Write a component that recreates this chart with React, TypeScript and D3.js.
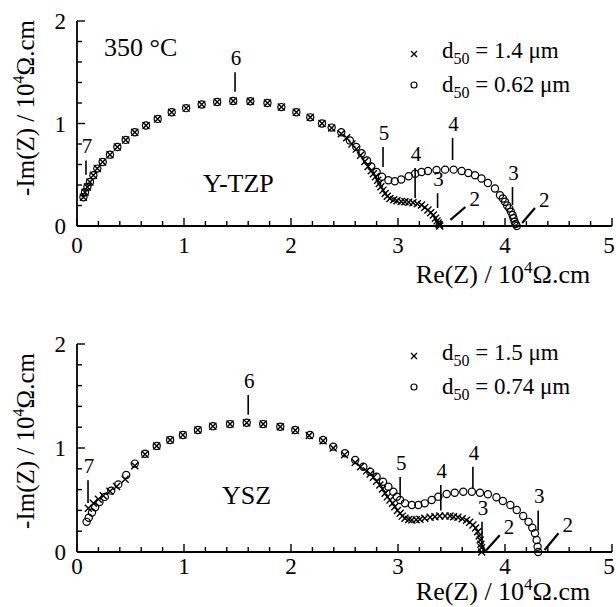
import React from "react";
import * as d3 from "d3";

// ---------- data ----------
// Y-TZP (top panel), 350 °C
const ytzpCoarse: [number, number][] = [
  [0.06, 0.28], [0.075, 0.33], [0.097, 0.38], [0.121, 0.43], [0.153, 0.495], [0.19, 0.56],
  [0.24, 0.624], [0.308, 0.696], [0.377, 0.77], [0.455, 0.84], [0.54, 0.915], [0.645, 0.98],
  [0.754, 1.045], [0.885, 1.11], [1.02, 1.15], [1.165, 1.185], [1.31, 1.21], [1.46, 1.22],
  [1.62, 1.217], [1.78, 1.2], [1.91, 1.16], [2.05, 1.11], [2.18, 1.06], [2.29, 1.0],
  [2.38, 0.955], [2.47, 0.9], [2.52, 0.86], [2.57, 0.8], [2.61, 0.75], [2.65, 0.69],
  [2.69, 0.63], [2.72, 0.58], [2.75, 0.54], [2.77, 0.51], [2.79, 0.48], [2.81, 0.447],
  [2.825, 0.415], [2.84, 0.382], [2.86, 0.35], [2.88, 0.317], [2.9, 0.29], [2.925, 0.269],
  [2.96, 0.255], [2.99, 0.246], [3.03, 0.24], [3.065, 0.236], [3.1, 0.232], [3.14, 0.226],
  [3.18, 0.216], [3.22, 0.204], [3.25, 0.18], [3.28, 0.155], [3.305, 0.13], [3.33, 0.107],
  [3.35, 0.075], [3.365, 0.05], [3.375, 0.03], [3.385, 0.012], [3.39, 0.0],
];
const ytzpFine: [number, number][] = [
  [0.06, 0.28], [0.075, 0.33], [0.097, 0.38], [0.121, 0.43], [0.153, 0.495], [0.19, 0.56],
  [0.24, 0.624], [0.308, 0.696], [0.377, 0.77], [0.455, 0.84], [0.54, 0.915], [0.645, 0.98],
  [0.754, 1.045], [0.885, 1.11], [1.02, 1.15], [1.165, 1.185], [1.31, 1.21], [1.46, 1.22],
  [1.62, 1.217], [1.78, 1.2], [1.91, 1.16], [2.05, 1.11], [2.18, 1.06], [2.29, 1.0],
  [2.38, 0.96], [2.47, 0.915], [2.55, 0.835], [2.61, 0.77], [2.66, 0.71], [2.71, 0.64],
  [2.75, 0.58], [2.8, 0.527], [2.85, 0.48], [2.91, 0.447], [2.97, 0.437], [3.03, 0.453],
  [3.1, 0.485], [3.16, 0.51], [3.22, 0.527], [3.28, 0.537], [3.36, 0.547], [3.44, 0.55],
  [3.52, 0.55], [3.595, 0.537], [3.657, 0.517], [3.72, 0.495], [3.78, 0.463], [3.84, 0.42],
  [3.906, 0.366], [3.953, 0.3], [3.98, 0.268], [4.0, 0.236], [4.02, 0.2], [4.04, 0.172],
  [4.055, 0.14], [4.07, 0.107], [4.08, 0.075], [4.09, 0.042], [4.1, 0.02], [4.11, 0.0],
];

// YSZ (bottom panel)
const yszCoarse: [number, number][] = [
  [0.106, 0.42], [0.153, 0.468], [0.2, 0.507], [0.246, 0.54], [0.308, 0.585], [0.37, 0.63],
  [0.45, 0.7], [0.54, 0.83], [0.636, 0.94], [0.745, 1.02], [0.87, 1.077], [0.99, 1.125],
  [1.13, 1.173], [1.27, 1.21], [1.43, 1.23], [1.586, 1.243], [1.74, 1.23], [1.9, 1.205],
  [2.04, 1.17], [2.17, 1.12], [2.3, 1.07], [2.395, 1.0], [2.5, 0.935], [2.6, 0.86],
  [2.65, 0.82], [2.707, 0.78], [2.74, 0.75], [2.77, 0.718], [2.8, 0.68], [2.83, 0.644],
  [2.855, 0.605], [2.88, 0.564], [2.9, 0.53], [2.925, 0.5], [2.95, 0.468], [2.97, 0.436],
  [2.995, 0.4], [3.02, 0.372], [3.04, 0.345], [3.065, 0.324], [3.1, 0.312], [3.13, 0.308],
  [3.17, 0.31], [3.205, 0.314], [3.25, 0.324], [3.3, 0.333], [3.345, 0.34], [3.39, 0.346],
  [3.44, 0.347], [3.486, 0.346], [3.52, 0.34], [3.56, 0.333], [3.6, 0.32], [3.64, 0.305],
  [3.67, 0.285], [3.7, 0.26], [3.725, 0.23], [3.745, 0.195], [3.758, 0.155], [3.768, 0.115],
  [3.775, 0.075], [3.78, 0.04], [3.782, 0.0],
];
const yszFine: [number, number][] = [
  [0.09, 0.29], [0.11, 0.33], [0.14, 0.38], [0.17, 0.43], [0.21, 0.48], [0.26, 0.53],
  [0.32, 0.59], [0.386, 0.65], [0.46, 0.74], [0.54, 0.85], [0.636, 0.945], [0.745, 1.02],
  [0.87, 1.077], [0.99, 1.125], [1.13, 1.173], [1.27, 1.21], [1.43, 1.23], [1.586, 1.243],
  [1.74, 1.23], [1.9, 1.205], [2.04, 1.173], [2.178, 1.125], [2.3, 1.077], [2.395, 1.013],
  [2.505, 0.949], [2.6, 0.885], [2.676, 0.82], [2.74, 0.772], [2.8, 0.724], [2.86, 0.676],
  [2.91, 0.628], [2.956, 0.58], [2.99, 0.532], [3.02, 0.5], [3.065, 0.468], [3.13, 0.452],
  [3.19, 0.452], [3.25, 0.468], [3.315, 0.5], [3.377, 0.532], [3.455, 0.558], [3.53, 0.57],
  [3.61, 0.58], [3.69, 0.58], [3.766, 0.57], [3.84, 0.555], [3.92, 0.526], [3.98, 0.49],
  [4.05, 0.452], [4.11, 0.404], [4.17, 0.346], [4.22, 0.29], [4.255, 0.234], [4.28, 0.18],
  [4.296, 0.115], [4.305, 0.051], [4.31, 0.0],
];

// frequency-decade annotations (label, x, y of tick top, y of tick bottom)
const ytzpTicks = [
  { label: "7", x: 0.084, y1: 0.64, y2: 0.5 },
  { label: "6", x: 1.477, y1: 1.5, y2: 1.31 },
  { label: "5", x: 2.86, y1: 0.77, y2: 0.576 },
  { label: "4", x: 3.51, y1: 0.86, y2: 0.644 },
  { label: "4", x: 3.16, y1: 0.566, y2: 0.273 },
  { label: "3", x: 3.37, y1: 0.32, y2: 0.176 },
  { label: "3", x: 4.07, y1: 0.38, y2: 0.205 },
];
const ytzpDiag = [
  { label: "2", x1: 3.49, y1: 0.06, x2: 3.63, y2: 0.185 },
  { label: "2", x1: 4.16, y1: 0.03, x2: 4.28, y2: 0.176 },
];
const yszTicks = [
  { label: "7", x: 0.103, y1: 0.69, y2: 0.47 },
  { label: "6", x: 1.6, y1: 1.51, y2: 1.32 },
  { label: "5", x: 3.02, y1: 0.72, y2: 0.55 },
  { label: "4", x: 3.4, y1: 0.644, y2: 0.4 },
  { label: "4", x: 3.7, y1: 0.82, y2: 0.615 },
  { label: "3", x: 4.31, y1: 0.4, y2: 0.21 },
  { label: "3", x: 3.785, y1: 0.29, y2: 0.04 },
];
const yszDiag = [
  { label: "2", x1: 3.81, y1: 0.0, x2: 3.95, y2: 0.16 },
  { label: "2", x1: 4.37, y1: 0.02, x2: 4.5, y2: 0.18 },
];

const xTickValues = [0, 1, 2, 3, 4, 5];
const yTickValues = [0, 1, 2];
const ytzpLegend = ["1.4", "0.62"];
const yszLegend = ["1.5", "0.74"];

const FONT = "'Liberation Serif', 'Times New Roman', serif";

type Pt = [number, number];
type TickAnn = { label: string; x: number; y1: number; y2: number };
type DiagAnn = { label: string; x1: number; y1: number; x2: number; y2: number };

function Cross({ cx, cy, s = 3.5 }: { cx: number; cy: number; s?: number }) {
  return (
    <path
      d={`M${cx - s},${cy - s}L${cx + s},${cy + s}M${cx - s},${cy + s}L${cx + s},${cy - s}`}
      stroke="#000"
      strokeWidth={1.4}
      fill="none"
    />
  );
}

function Panel(props: {
  top: number;
  bottom: number;
  coarse: Pt[];
  fine: Pt[];
  ticks: TickAnn[];
  diags: DiagAnn[];
  legend: string[];
  name: string;
  nameX: number;
  nameY: number;
  legendY: number;
  showTemp: boolean;
  titleY: number;
  xLabelY: number;
  xTickOffset: number;
}) {
  const x = d3.scaleLinear().domain([0, 5]).range([77, 612]);
  const y = d3.scaleLinear().domain([0, 2]).range([props.bottom, props.top]);
  const minor = d3.range(0, 5.0001, 0.2);
  const yMinor = d3.range(0, 2.0001, 0.2);
  const isInt = (v: number) => Math.abs(v - Math.round(v)) < 1e-6;

  return (
    <g fontFamily={FONT} fill="#000">
      {/* axes */}
      <line x1={x(0)} x2={x(5)} y1={y(0)} y2={y(0)} stroke="#000" strokeWidth={1.8} />
      <line x1={x(0)} x2={x(0)} y1={y(0)} y2={y(2)} stroke="#000" strokeWidth={1.8} />
      {minor.map((v, i) => (
        <line
          key={"xt" + i}
          x1={x(v)}
          x2={x(v)}
          y1={y(0)}
          y2={y(0) - (isInt(v) ? 8 : 5)}
          stroke="#000"
          strokeWidth={1.4}
        />
      ))}
      {yMinor.map((v, i) => (
        <line
          key={"yt" + i}
          x1={x(0)}
          x2={x(0) + (isInt(v) ? 8 : 5)}
          y1={y(v)}
          y2={y(v)}
          stroke="#000"
          strokeWidth={1.4}
        />
      ))}
      {xTickValues.map((v) => (
        <text
          key={"xl" + v}
          x={Math.min(x(v), 609)}
          y={y(0) + props.xTickOffset}
          fontSize={23}
          textAnchor="middle"
        >
          {v}
        </text>
      ))}
      {yTickValues.map((v) => (
        <text key={"yl" + v} x={x(0) - 11} y={y(v) + 8} fontSize={23} textAnchor="end">
          {v}
        </text>
      ))}
      {/* axis titles */}
      <text
        transform={`translate(34,${props.titleY}) rotate(-90)`}
        fontSize={25}
        textAnchor="middle"
      >
        -Im(Z) / 10
        <tspan fontSize={16} dy={-10}>4</tspan>
        <tspan dy={10}>Ω.cm</tspan>
      </text>
      <text x={503} y={props.xLabelY} fontSize={26} textAnchor="middle">
        Re(Z) / 10
        <tspan fontSize={17} dy={-10}>4</tspan>
        <tspan dy={10}>Ω.cm</tspan>
      </text>

      {/* data: circles (fine) and crosses (coarse) */}
      {props.fine.map((p, i) => (
        <circle key={"c" + i} cx={x(p[0])} cy={y(p[1])} r={3.6} fill="none" stroke="#000" strokeWidth={1.2} />
      ))}
      {props.coarse.map((p, i) => (
        <Cross key={"x" + i} cx={x(p[0])} cy={y(p[1])} />
      ))}

      {/* decade annotations */}
      {props.ticks.map((t, i) => (
        <g key={"a" + i}>
          <line x1={x(t.x)} x2={x(t.x)} y1={y(t.y1)} y2={y(t.y2)} stroke="#000" strokeWidth={1.6} />
          <text x={x(t.x) + 1} y={y(t.y1) - 7} fontSize={21} textAnchor="middle">
            {t.label}
          </text>
        </g>
      ))}
      {props.diags.map((t, i) => (
        <g key={"d" + i}>
          <line x1={x(t.x1)} x2={x(t.x2)} y1={y(t.y1)} y2={y(t.y2)} stroke="#000" strokeWidth={2.2} />
          <text x={x(t.x2) + 4} y={y(t.y2) - 1} fontSize={21}>
            {t.label}
          </text>
        </g>
      ))}

      {/* panel name */}
      <text x={props.nameX} y={props.nameY} fontSize={26}>
        {props.name}
      </text>
      {props.showTemp && (
        <text x={104} y={56} fontSize={26}>
          350 °C
        </text>
      )}

      {/* legend */}
      <Cross cx={414} cy={props.legendY - 4} s={3} />
      <text x={442} y={props.legendY} fontSize={23}>
        d<tspan fontSize={16} dy={6}>50</tspan>
        <tspan dy={-6}> = {props.legend[0]} μm</tspan>
      </text>
      <circle cx={414} cy={props.legendY + 27} r={3} fill="none" stroke="#000" strokeWidth={1.2} />
      <text x={442} y={props.legendY + 34} fontSize={23}>
        d<tspan fontSize={16} dy={6}>50</tspan>
        <tspan dy={-6}> = {props.legend[1]} μm</tspan>
      </text>
    </g>
  );
}

export default function App() {
  return (
    <svg
      width={616}
      height={607}
      viewBox="0 0 616 607"
      style={{ position: "absolute", left: 0, top: 0, background: "#fff" }}
    >
      <rect width={616} height={607} fill="#fff" />
      <Panel
        top={21}
        bottom={226}
        coarse={ytzpCoarse}
        fine={ytzpFine}
        ticks={ytzpTicks}
        diags={ytzpDiag}
        legend={ytzpLegend}
        name="Y-TZP"
        nameX={203}
        nameY={192}
        legendY={58}
        showTemp={true}
        titleY={108}
        xLabelY={283}
        xTickOffset={27}
      />
      <Panel
        top={344}
        bottom={552}
        coarse={yszCoarse}
        fine={yszFine}
        ticks={yszTicks}
        diags={yszDiag}
        legend={yszLegend}
        name="YSZ"
        nameX={222}
        nameY={504}
        legendY={360}
        showTemp={false}
        titleY={441}
        xLabelY={600}
        xTickOffset={22}
      />
    </svg>
  );
}
